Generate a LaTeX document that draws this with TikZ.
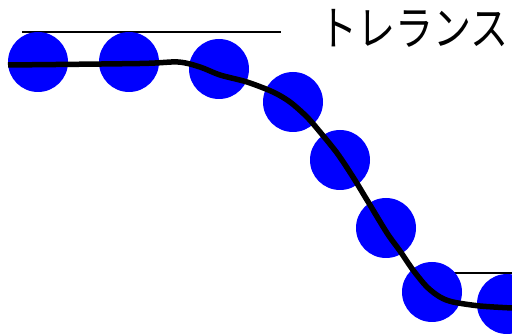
\documentclass[tikz,border=0pt]{standalone}
\usepackage{fontspec}
\newfontfamily\jpfont{Noto Sans CJK JP}
\begin{document}
\begin{tikzpicture}[x=1pt,y=-1pt]
    \useasboundingbox (0,0) rectangle (512,336);
    % tolerance lines
    \draw[line width=1.5pt] (22,32) coordinate (t1) -- (281,32) coordinate (t2);
    \draw[line width=1.5pt] (446,273) coordinate (b1) -- (512,273) coordinate (b2);
    \node[anchor=west, font=\jpfont\fontsize{38}{38}\selectfont, inner sep=0pt, yscale=1.23] (tol) at (319,28) {トレランス};

    % circles
    \foreach \x/\y [count=\i] in {38/62, 129/62, 219/69, 293/102, 340/160, 386/228, 432/292, 507/304}
        \fill[blue] (\x,\y) circle (30) coordinate (c\i);

    % measured profile
    \draw[line width=5.5pt, smooth, tension=0.5] plot coordinates {
        (8,65) (140,63.5) (178,62) (200,67) (220,75) (247,82) (273,92) (290,102) (307,117)
        (320,132) (337,153) (353,177) (367,200) (387,233) (400,251) (413,270) (427,287)
        (440,297) (453,302) (480,306) (512,308)};
\end{tikzpicture}
\end{document}
